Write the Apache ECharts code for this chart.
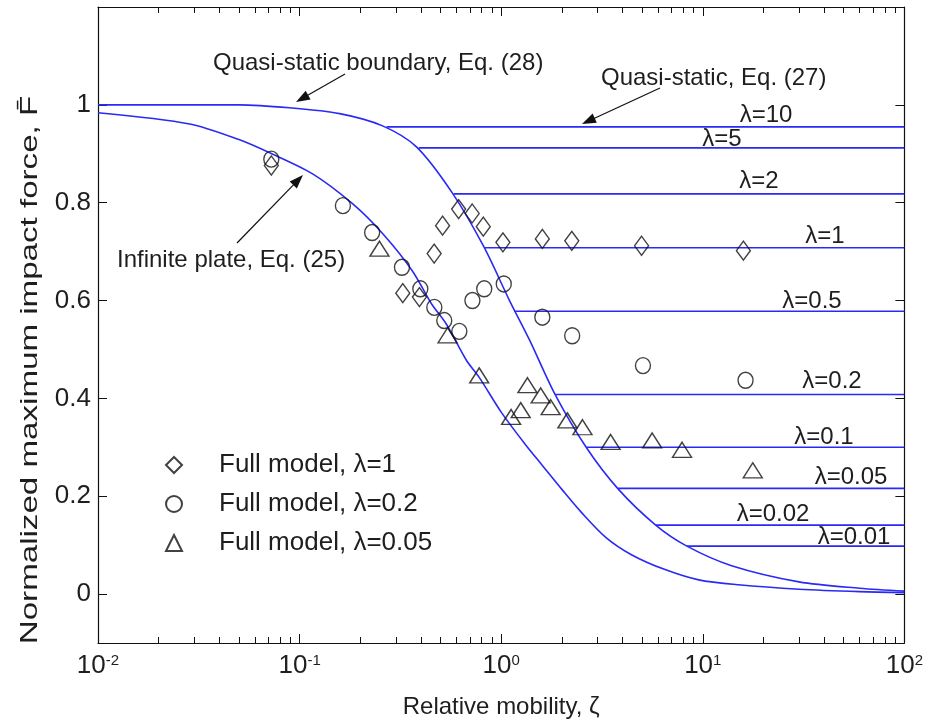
<!DOCTYPE html>
<html><head><meta charset="utf-8">
<script src="https://cdn.jsdelivr.net/npm/echarts@6/dist/echarts.min.js"></script>
<style>html,body{margin:0;padding:0;background:#fff}#c{width:926px;height:725px}</style>
</head><body><div id="c"></div>
<script>
// ---- data ----
const zetaBoundary = [0.01, 0.05, 0.089, 0.158, 0.258, 0.38, 0.572, 0.82, 1.1, 1.38, 1.85, 2.64, 3.8, 5.84, 8.34, 13.9, 30, 60, 100];
const FBoundary    = [1.0, 1.0, 0.994, 0.982, 0.957, 0.914, 0.82, 0.71, 0.6, 0.52, 0.408, 0.30, 0.215, 0.141, 0.098, 0.058, 0.025, 0.012, 0.006];

const zetaPlate = [0.01, 0.0285, 0.05, 0.071, 0.116, 0.183, 0.258, 0.362, 0.45, 0.534, 0.672, 0.778, 1.0, 1.3, 1.6, 2.0, 2.5, 3.3, 4.45, 6.5, 9.55, 15, 30, 60, 100];
const FPlate    = [0.984, 0.961, 0.929, 0.902, 0.859, 0.798, 0.737, 0.661, 0.594, 0.552, 0.478, 0.443, 0.372, 0.309, 0.263, 0.214, 0.167, 0.116, 0.080, 0.050, 0.029, 0.019, 0.010, 0.005, 0.003];

const lambdaNames    = ['10', '5', '2', '1', '0.5', '0.2', '0.1', '0.05', '0.02', '0.01'];
const FQuasi         = [0.955, 0.912, 0.818, 0.708, 0.578, 0.408, 0.300, 0.216, 0.141, 0.098];
const zetaQuasiStart = [0.27, 0.39, 0.58, 0.83, 1.16, 1.85, 2.64, 3.8, 5.84, 8.34];
const zetaQuasiEnd   = 100;

const zetaLam1 = [0.0724, 0.325, 0.393, 0.465, 0.512, 0.615, 0.718, 0.815, 1.02, 1.60, 2.24, 4.97, 15.9];
const FLam1    = [0.876, 0.615, 0.607, 0.696, 0.753, 0.787, 0.778, 0.751, 0.719, 0.726, 0.722, 0.712, 0.702];

const zetaLam02 = [0.0724, 0.164, 0.229, 0.322, 0.397, 0.466, 0.522, 0.62, 0.72, 0.824, 1.03, 1.60, 2.25, 5.05, 16.3];
const FLam02    = [0.889, 0.794, 0.739, 0.668, 0.624, 0.586, 0.559, 0.537, 0.60, 0.624, 0.634, 0.566, 0.528, 0.467, 0.437];

const zetaLam005 = [0.249, 0.542, 0.778, 1.12, 1.25, 1.35, 1.57, 1.76, 2.13, 2.53, 3.49, 5.61, 7.89, 17.7];
const FLam005    = [0.706, 0.529, 0.447, 0.362, 0.376, 0.427, 0.406, 0.382, 0.355, 0.341, 0.311, 0.314, 0.295, 0.253];

const yTickValues = [0, 0.2, 0.4, 0.6, 0.8, 1];
const yTickLabels = ['0', '0.2', '0.4', '0.6', '0.8', '1'];
const legendNames = ['Full model, \u03bb=1', 'Full model, \u03bb=0.2', 'Full model, \u03bb=0.05'];
const xTitle = 'Relative mobility, \u03b6';
const yTitle = 'Normalized maximum impact force, F\u0304';

// ---- helpers ----
const zip = (xs, ys) => xs.map((x, i) => [x, ys[i]]);
const minorLog = [];
for (let k = -2; k < 2; k++) for (let m = 2; m <= 9; m++) minorLog.push(k + Math.log10(m));

const FONT = '"Liberation Sans", Arial, Helvetica, sans-serif';
const TXT = '#1e1e1e';
const BLUE = '#2a2af6';

const chart = echarts.init(document.getElementById('c'));

function arrow(x1, y1, x2, y2) {
  const dx = x2 - x1, dy = y2 - y1, L = Math.hypot(dx, dy);
  const ux = dx / L, uy = dy / L, hl = 14, hw = 5;
  const bx = x2 - ux * hl, by = y2 - uy * hl;
  return [
    { type: 'line', shape: { x1, y1, x2: bx + ux * 2, y2: by + uy * 2 }, style: { stroke: '#111', lineWidth: 1.2 }, z: 50 },
    { type: 'polygon', shape: { points: [[x2, y2], [bx - uy * hw, by + ux * hw], [bx + uy * hw, by - ux * hw]] }, style: { fill: '#111' }, z: 50 }
  ];
}
function txt(x, y, text, align, size) {
  return { type: 'text', x, y, z: 50, style: { text, fill: TXT, font: (size || 24) + 'px ' + FONT, textAlign: align || 'left', textVerticalAlign: 'middle' } };
}

// lambda label layout (pixel centres)
const lambdaLabelPos = [[766, 115], [722, 139], [759, 181], [825, 236], [812, 301], [832, 381], [824, 437], [851, 477], [773, 514], [854, 537]];

const graphics = [
  txt(213, 63, 'Quasi-static boundary, Eq. (28)'),
  txt(601, 78, 'Quasi-static, Eq. (27)'),
  txt(117, 260, 'Infinite plate, Eq. (25)'),
  ...arrow(345, 74, 296, 102),
  ...arrow(660, 88, 582, 124),
  ...arrow(237, 243, 303, 175),
  ...lambdaNames.map((n, i) => txt(lambdaLabelPos[i][0], lambdaLabelPos[i][1], '\u03bb=' + n, 'center', 24)),
  { type: 'text', x: 30, y: 370, rotation: Math.PI / 2, scaleX: 1.38, z: 50,
    style: { text: yTitle, fill: TXT, font: '24px ' + FONT, textAlign: 'center', textVerticalAlign: 'middle' } }
];

const axLine = { show: true, onZero: false, lineStyle: { color: '#111', width: 1.2 } };
const baseX = {
  type: 'log', logBase: 10, min: 0.01, max: 100, gridIndex: 0,
  axisLine: axLine, splitLine: { show: false }, minorTick: { show: false }
};
const minorX = pos => ({
  type: 'value', min: -2, max: 2, position: pos, gridIndex: 0,
  axisLine: { show: false, onZero: false }, splitLine: { show: false },
  axisTick: { show: true, inside: true, length: 6, customValues: minorLog, lineStyle: { color: '#111' } },
  axisLabel: { show: false }
});
const xAxes = [
  Object.assign({}, baseX, {
    position: 'bottom',
    axisTick: { inside: true, length: 9, lineStyle: { color: '#111' } },
    axisLabel: {
      margin: 10, color: TXT, fontFamily: FONT,
      formatter: v => '{b|10}{s|' + Math.round(Math.log10(v)) + '}',
      rich: { b: { fontSize: 26, fontFamily: FONT, color: TXT }, s: { fontSize: 15, fontFamily: FONT, color: TXT, verticalAlign: 'top' } }
    },
    name: xTitle, nameLocation: 'middle', nameGap: 52,
    nameTextStyle: { fontSize: 24, fontFamily: FONT, color: TXT }
  }),
  Object.assign({}, baseX, { position: 'top', axisTick: { inside: true, length: 9, lineStyle: { color: '#111' } }, axisLabel: { show: false } }),
  minorX('bottom'),
  minorX('top')
];
const yAxes = [
  { type: 'value', min: -0.1, max: 1.2, position: 'left',
    axisLine: axLine, splitLine: { show: false },
    axisTick: { show: true, inside: true, length: 9, customValues: yTickValues, lineStyle: { color: '#111' } },
    axisLabel: { margin: 7, fontSize: 26, fontFamily: FONT, color: TXT, customValues: yTickValues,
      formatter: v => yTickLabels[yTickValues.findIndex(t => Math.abs(t - v) < 1e-9)] ?? '' } },
  { type: 'value', min: -0.1, max: 1.2, position: 'right',
    axisLine: axLine, splitLine: { show: false },
    axisTick: { show: true, inside: true, length: 9, customValues: yTickValues, lineStyle: { color: '#111' } },
    axisLabel: { show: false } }
];

const lineSeries = (name, data, smooth) => ({
  name, type: 'line', data, xAxisIndex: 0, yAxisIndex: 0, showSymbol: false, symbol: 'none',
  smooth: smooth || false,
  lineStyle: { color: BLUE, width: 1.6 }, itemStyle: { color: BLUE }, silent: true, z: 3
});
const markerStyle = { color: 'rgba(255,255,255,0)', borderColor: '#111', borderWidth: 1.4 };

const series = [
  lineSeries('Infinite plate, Eq. (25)', zip(zetaPlate, FPlate), 0.3),
  lineSeries('Quasi-static boundary, Eq. (28)', zip(zetaBoundary, FBoundary), 0.3),
  ...lambdaNames.map((n, i) => lineSeries('\u03bb=' + n, [[zetaQuasiStart[i], FQuasi[i]], [zetaQuasiEnd, FQuasi[i]]])),
  { name: legendNames[0], type: 'scatter', xAxisIndex: 0, yAxisIndex: 0, data: zip(zetaLam1, FLam1), symbol: 'diamond', symbolSize: [14, 19], itemStyle: markerStyle, z: 5 },
  { name: legendNames[1], type: 'scatter', xAxisIndex: 0, yAxisIndex: 0, data: zip(zetaLam02, FLam02), symbol: 'circle', symbolSize: [15, 16], itemStyle: markerStyle, z: 5 },
  { name: legendNames[2], type: 'scatter', xAxisIndex: 0, yAxisIndex: 0, data: zip(zetaLam005, FLam005), symbol: 'triangle', symbolSize: [19, 15], itemStyle: markerStyle, z: 5 }
];

chart.setOption({
  backgroundColor: '#fff',
  animation: false,
  grid: { left: 98, right: 21, top: 7, bottom: 82, containLabel: false },
  xAxis: xAxes,
  yAxis: yAxes,
  legend: {
    data: legendNames, orient: 'vertical', left: 160, top: 447,
    itemWidth: 16, itemHeight: 16, itemGap: 13, selectedMode: false,
    textStyle: { fontSize: 26, fontFamily: FONT, color: TXT, padding: [0, 0, 0, 32], lineHeight: 26 }
  },
  series,
  graphic: graphics
});
</script></body></html>
